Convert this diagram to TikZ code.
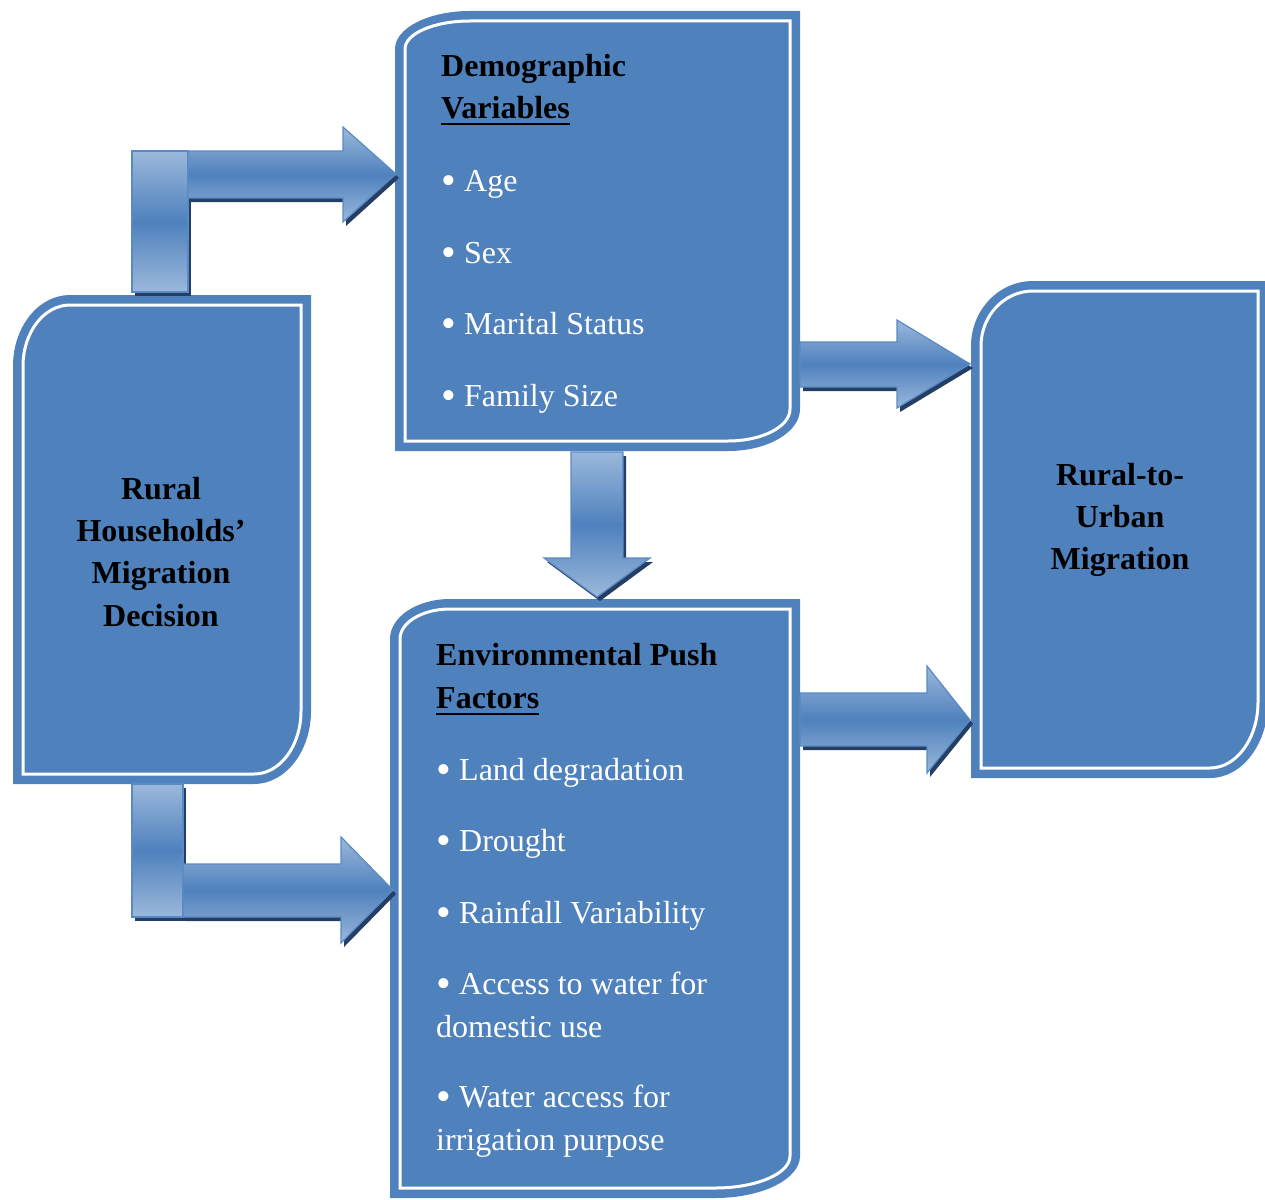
\documentclass[tikz,border=0pt]{standalone}
\usepackage{fontspec}
\setmainfont{Liberation Serif}
\definecolor{boxblue}{HTML}{4F81BD}
\definecolor{arrowlight}{HTML}{9BB8DB}
\definecolor{arrowedge}{HTML}{5A8AC6}
\definecolor{shadowblue}{HTML}{243F63}
\newcommand{\bul}{\makebox[23pt][l]{\raisebox{-3pt}{\fontsize{42}{42}\selectfont •}}}
\tikzset{
  boxfill/.style={fill=boxblue},
  boxline/.style={draw=white, line width=3pt},
  arrowbody/.style={draw=arrowedge, line width=1.2pt, top color=arrowlight, bottom color=arrowlight, middle color=boxblue},
  arrowshadow/.style={fill=shadowblue},
  ttl/.style={font=\bfseries\fontsize{32}{42}\selectfont, text=black, inner sep=0pt, anchor=base west},
  ctl/.style={font=\bfseries\fontsize{32}{42}\selectfont, text=black, inner sep=0pt, anchor=base},
  itm/.style={font=\fontsize{32}{42}\selectfont, text=white, inner sep=0pt, anchor=base west},
  area/.style={inner sep=0pt, draw=none}
}
% x1 y1 x2 y2 rx(TL) ry(TL) rx(BR) ry(BR)
\newcommand{\rdbox}[8]{%
  \fill[boxfill] (#1,{#2+#6}) .. controls (#1,{#2+0.4477*#6}) and ({#1+0.4477*#5},#2) .. ({#1+#5},#2) -- (#3,#2) -- (#3,{#4-#8}) .. controls (#3,{#4-0.4477*#8}) and ({#3-0.4477*#7},#4) .. ({#3-#7},#4) -- (#1,#4) -- cycle;
  \draw[boxline] ({#1+10},{#2+#6}) .. controls ({#1+10},{#2+10+0.4477*(#6-10)}) and ({#1+10+0.4477*(#5-10)},{#2+10}) .. ({#1+#5},{#2+10}) -- ({#3-10},{#2+10}) -- ({#3-10},{#4-#8}) .. controls ({#3-10},{#4-10-0.4477*(#8-10)}) and ({#3-10-0.4477*(#7-10)},{#4-10}) .. ({#3-#7},{#4-10}) -- ({#1+10},{#4-10}) -- cycle;
}
\begin{document}
\begin{tikzpicture}[x=1pt,y=-1pt]
\useasboundingbox (0,0) rectangle (1265,1199);

% ---------- boxes ----------
\rdbox{13}{295}{311}{784}{57}{71}{57}{73}
\rdbox{395}{11}{800}{451}{75}{38}{72}{42}
\rdbox{390}{599}{800}{1198}{60}{40}{85}{42}
\rdbox{971}{281}{1268}{778}{62}{65}{58}{76}

\node[area, minimum width=298pt, minimum height=489pt] (rural) at (162,539.5) {};
\node[area, minimum width=405pt, minimum height=440pt] (demo) at (597.5,231) {};
\node[area, minimum width=410pt, minimum height=599pt] (env) at (595,898.5) {};
\node[area, minimum width=297pt, minimum height=497pt] (urban) at (1119.5,529.5) {};

% ---------- block arrows: shadows ----------
\begin{scope}[shift={(3,4)}]
  \fill[arrowshadow] (132,151) rectangle (188,292);
  \fill[arrowshadow] (188,151) -- (343,151) -- (343,127) -- (396,174) -- (343,222) -- (343,198) -- (188,198) -- cycle;
  \fill[arrowshadow] (132,784) rectangle (183,917);
  \fill[arrowshadow] (183,864) -- (341,864) -- (341,837) -- (393,890) -- (341,943) -- (341,917) -- (183,917) -- cycle;
  \fill[arrowshadow] (571,452) -- (623,452) -- (623,558) -- (650,558) -- (597,597) -- (544,558) -- (571,558) -- cycle;
  \fill[arrowshadow] (800,342) -- (897,342) -- (897,320) -- (970,364) -- (897,408) -- (897,387) -- (800,387) -- cycle;
  \fill[arrowshadow] (800,693) -- (927,693) -- (927,666) -- (970,720) -- (927,773) -- (927,746) -- (800,746) -- cycle;
\end{scope}

% ---------- block arrows ----------
\path[arrowbody] (132,151) rectangle (188,292) coordinate (upbar);
\path[arrowbody] (188,151) -- (343,151) -- (343,127) -- (396,174) -- (343,222) -- (343,198) -- (188,198) -- cycle;
\path[arrowbody] (132,784) rectangle (183,917) coordinate (lowbar);
\path[arrowbody] (183,864) -- (341,864) -- (341,837) -- (393,890) -- (341,943) -- (341,917) -- (183,917) -- cycle;
\path[arrowbody] (571,452) -- (623,452) -- (623,558) -- (650,558) -- (597,597) -- (544,558) -- (571,558) -- cycle;
\path[arrowbody] (800,342) -- (897,342) -- (897,320) -- (970,364) -- (897,408) -- (897,387) -- (800,387) -- cycle;
\path[arrowbody] (800,693) -- (927,693) -- (927,666) -- (970,720) -- (927,773) -- (927,746) -- (800,746) -- cycle;

% ---------- texts: left box ----------
\node[ctl] (r1) at (161,499) {Rural};
\node[ctl] (r2) at (161,541) {Households’};
\node[ctl] (r3) at (161,583) {Migration};
\node[ctl] (r4) at (161,626) {Decision};

% ---------- texts: demographic box ----------
\node[ttl] (d1) at (441,77) {Demographic};
\node[ttl] (d2) at (441,118) {Variables};
\draw[line width=2.7pt] ([yshift=-6pt]d2.base west) -- ([yshift=-6pt]d2.base east);
\node[itm] (d3) at (441,191) {\bul Age};
\node[itm] (d4) at (441,263) {\bul Sex};
\node[itm] (d5) at (441,334) {\bul Marital Status};
\node[itm] (d6) at (441,406) {\bul Family Size};

% ---------- texts: environmental box ----------
\node[ttl] (e1) at (436,665) {Environmental Push};
\node[ttl] (e2) at (436,708) {Factors};
\draw[line width=2.7pt] ([yshift=-6pt]e2.base west) -- ([yshift=-6pt]e2.base east);
\node[itm] (e3) at (436,780) {\bul Land degradation};
\node[itm] (e4) at (436,851) {\bul Drought};
\node[itm] (e5) at (436,923) {\bul Rainfall Variability};
\node[itm] (e6) at (436,994) {\bul Access to water for};
\node[itm] (e7) at (436,1037) {domestic use};
\node[itm] (e8) at (436,1107) {\bul Water access for};
\node[itm] (e9) at (436,1150) {irrigation purpose};

% ---------- texts: right box ----------
\node[ctl] (u1) at (1120,485) {Rural-to-};
\node[ctl] (u2) at (1120,527) {Urban};
\node[ctl] (u3) at (1120,569) {Migration};
\end{tikzpicture}
\end{document}
